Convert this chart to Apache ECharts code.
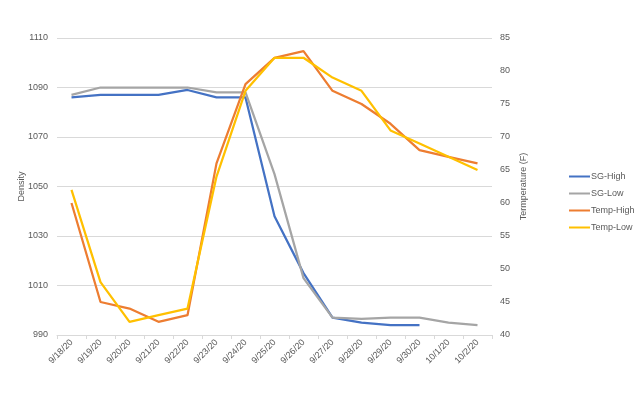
<!DOCTYPE html>
<html><head><meta charset="utf-8">
<script src="https://cdn.jsdelivr.net/npm/echarts@6/dist/echarts.min.js"></script>
<style>html,body{margin:0;padding:0;background:#fff}#c{width:640px;height:393px}</style>
</head><body><div id="c"></div>
<script>
var categories = ['9/18/20','9/19/20','9/20/20','9/21/20','9/22/20','9/23/20','9/24/20','9/25/20','9/26/20','9/27/20','9/28/20','9/29/20','9/30/20','10/1/20','10/2/20'];
var sgHigh = [1086,1087,1087,1087,1089,1086,1086,1038,1015,997,995,994,994,null,null];
var sgLow = [1087,1090,1090,1090,1090,1088,1088,1055,1013,997,996.5,997,997,995,994];
var tempHigh = [60,45,44,42,43,66,78,82,83,77,75,72,68,67,66];
var tempLow = [62,48,42,43,44,64,77,82,82,79,77,71,69,67,65];

var chart = echarts.init(document.getElementById('c'));
var txt = '#595959', font = 'Liberation Sans, Arial, sans-serif';
function s(name, data, color, axis) {
  return {name: name, type: 'line', data: data, yAxisIndex: axis, symbol: 'none',
    lineStyle: {color: color, width: 2.25}, itemStyle: {color: color}, connectNulls: false};
}
chart.setOption({
  animation: false,
  textStyle: {fontFamily: font},
  grid: {left: 57, right: 148, top: 38, bottom: 58},
  legend: {orient: 'vertical', left: 564, top: 167, itemGap: 8, icon: 'rect', itemWidth: 21, itemHeight: 2,
    textStyle: {color: txt, fontSize: 9, padding: [0,0,0,-4]},
    data: ['SG-High','SG-Low','Temp-High','Temp-Low']},
  xAxis: {type: 'category', data: categories, boundaryGap: true,
    axisLine: {lineStyle: {color: '#d9d9d9'}},
    axisTick: {show: true, length: 4, lineStyle: {color: '#d9d9d9'}},
    axisLabel: {rotate: 45, color: txt, fontSize: 9, margin: 6, interval: 0}},
  yAxis: [
    {type: 'value', min: 990, max: 1110, interval: 20, name: 'Density', nameLocation: 'middle', nameGap: 31,
     nameMoveOverlap: false,
     nameTextStyle: {color: txt, fontSize: 9},
     axisLine: {show: false}, axisTick: {show: false},
     axisLabel: {color: txt, fontSize: 9, margin: 9, formatter: function(v){return String(v);}},
     splitLine: {lineStyle: {color: '#d9d9d9'}}},
    {type: 'value', min: 40, max: 85, interval: 5, name: 'Termperature (F)', nameLocation: 'middle', nameGap: 27,
     nameRotate: 90, nameMoveOverlap: false,
     nameTextStyle: {color: txt, fontSize: 9},
     axisLine: {show: false}, axisTick: {show: false},
     axisLabel: {color: txt, fontSize: 9, margin: 8},
     splitLine: {show: false}}
  ],
  series: [
    s('SG-High', sgHigh, '#4472C4', 0),
    s('SG-Low', sgLow, '#A5A5A5', 0),
    s('Temp-High', tempHigh, '#ED7D31', 1),
    s('Temp-Low', tempLow, '#FFC000', 1)
  ]
});
</script></body></html>
